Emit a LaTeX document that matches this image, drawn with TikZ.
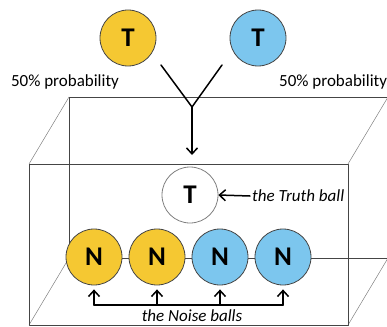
\documentclass[tikz,border=0pt]{standalone}
\usepackage{fontspec}
\setmainfont{Carlito}
\usetikzlibrary{arrows.meta}

\definecolor{ballyellow}{HTML}{F5C832}
\definecolor{ballblue}{HTML}{7CC6EE}
\definecolor{edgegray}{HTML}{454545}

\begin{document}
\begin{tikzpicture}[x=1pt,y=-1pt,line cap=round,line join=round,
  >={Straight Barb[length=6pt,width=11pt,line width=1.5pt]},
  ball/.style={circle,draw=edgegray,line width=0.8pt,minimum size=56pt,
    inner sep=0pt,font=\fontsize{27}{27}\selectfont\bfseries},
  note/.style={font=\fontsize{17}{19}\selectfont,inner sep=2pt},
  flow/.style={line width=1.5pt},
  depth/.style={gray,line width=0.5pt}]
  \useasboundingbox (0,0) rectangle (387,326);

  % Box corners, front and back
  \coordinate (FA) at (29,164);
  \coordinate (FB) at (348,164);
  \coordinate (FC) at (348,325);
  \coordinate (FD) at (29,325);
  \coordinate (BA) at (69,97);
  \coordinate (BB) at (388,97);
  \coordinate (BC) at (388,258);
  \coordinate (BD) at (69,258);

  % Box, back face and depth edges
  \draw[edgegray,line width=0.6pt] (BA) rectangle (BC);
  \draw[depth] (FA) -- (BA);
  \draw[depth] (FB) -- (BB);
  \draw[depth] (FC) -- (BC);
  \draw[depth] (FD) -- (BD);
  % Box, front face
  \draw[edgegray,line width=0.6pt] (FA) rectangle (FC);

  % Balls to choose from
  \node[ball,fill=ballyellow] (t1) at (128,38) {T};
  \node[ball,fill=ballblue] (t2) at (258,38) {T};
  \node[note] (p1) at (65,82) {50\% probability};
  \node[note,anchor=west] (p2) at (277,82) {50\% probability};

  % Choice
  \coordinate (yl) at (161,65);
  \coordinate (yr) at (222,65);
  \coordinate (fork) at (192,107);
  \coordinate (drop) at (192,155);
  \draw[flow] (yl) -- (fork) -- (yr);
  \draw[flow,->] (fork) -- (drop);

  % Balls in the box
  \node[ball,fill=white,draw=gray] (truth) at (190,195) {T};
  \node[ball,fill=ballyellow] (n1) at (94,257) {N};
  \node[ball,fill=ballyellow] (n2) at (157,257) {N};
  \node[ball,fill=ballblue] (n3) at (220,257) {N};
  \node[ball,fill=ballblue] (n4) at (283,257) {N};

  % Labels
  \node[note,anchor=west,font=\fontsize{17}{19}\selectfont\itshape] (tl) at (250,196) {the Truth ball};
  \draw[flow,->] (tl.west) -- (truth.east);
  \node[note,font=\fontsize{17}{19}\selectfont\itshape] (nl) at (192,316) {the Noise balls};
  \coordinate (bar1) at (94,305);
  \coordinate (bar4) at (283,305);
  \draw[flow] (bar1) -- (bar4);
  \foreach \n in {n1,n2,n3,n4}
    \draw[flow,->,shorten >=4pt] (\n.south |- bar1) -- (\n.south);
\end{tikzpicture}
\end{document}
